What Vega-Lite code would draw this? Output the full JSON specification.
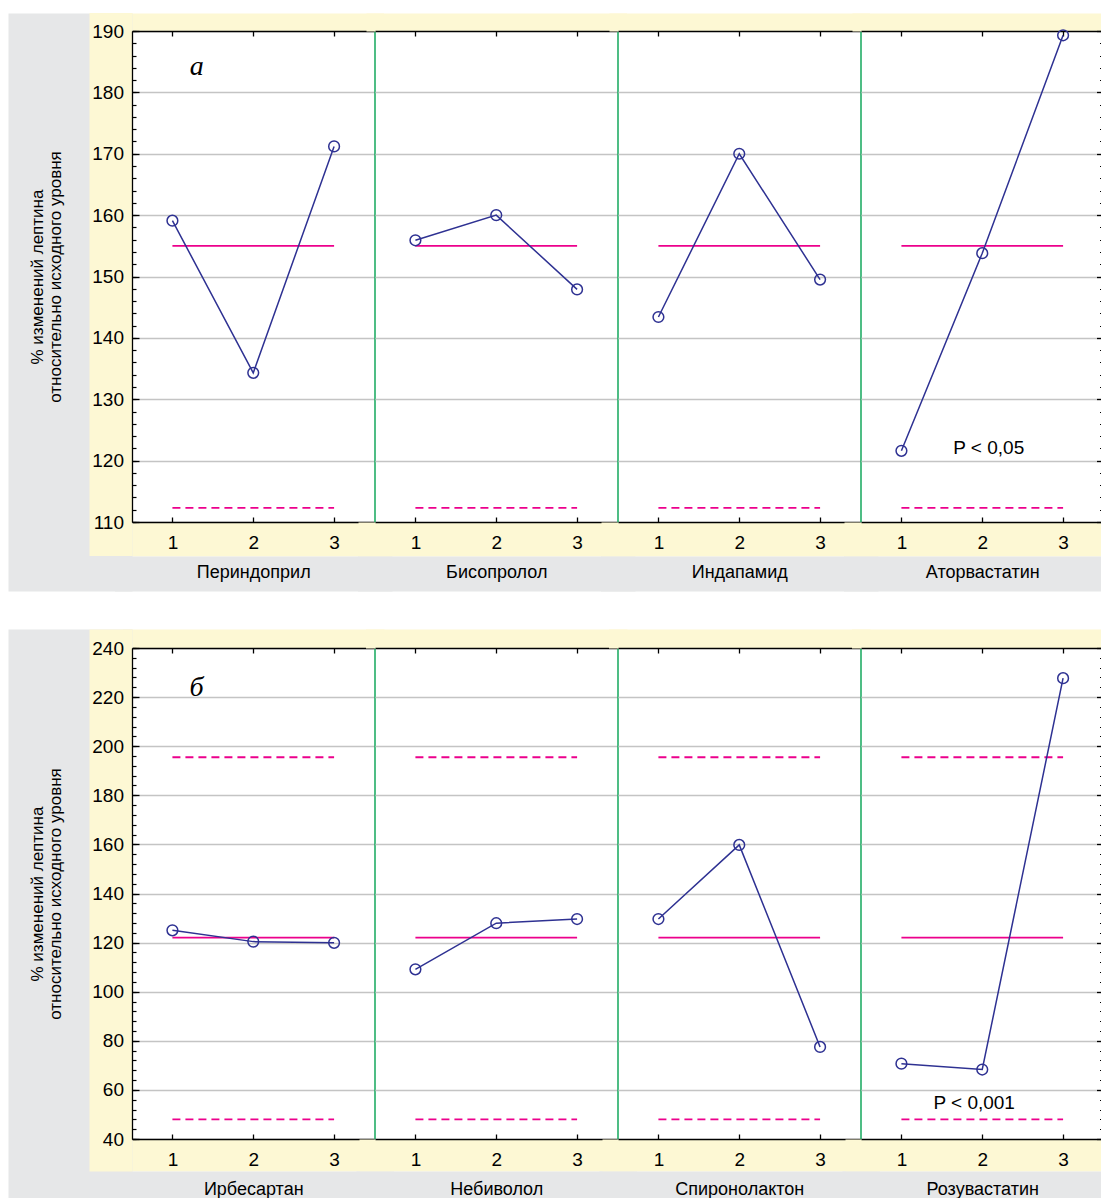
{
  "$schema": "https://vega.github.io/schema/vega-lite/v6.json",
  "background": "white",
  "padding": {"left": -281, "top": 12, "right": 0, "bottom": 0},
  "spacing": 38,
  "datasets": {
    "series": [
      {"row": "a", "drug": "Периндоприл", "visit": 1, "value": 159.1},
      {"row": "a", "drug": "Периндоприл", "visit": 2, "value": 134.3},
      {"row": "a", "drug": "Периндоприл", "visit": 3, "value": 171.2},
      {"row": "a", "drug": "Бисопролол", "visit": 1, "value": 155.9},
      {"row": "a", "drug": "Бисопролол", "visit": 2, "value": 160.0},
      {"row": "a", "drug": "Бисопролол", "visit": 3, "value": 147.9},
      {"row": "a", "drug": "Индапамид", "visit": 1, "value": 143.4},
      {"row": "a", "drug": "Индапамид", "visit": 2, "value": 170.0},
      {"row": "a", "drug": "Индапамид", "visit": 3, "value": 149.5},
      {"row": "a", "drug": "Аторвастатин", "visit": 1, "value": 121.6},
      {"row": "a", "drug": "Аторвастатин", "visit": 2, "value": 153.8},
      {"row": "a", "drug": "Аторвастатин", "visit": 3, "value": 189.3},
      {"row": "b", "drug": "Ирбесартан", "visit": 1, "value": 125.0},
      {"row": "b", "drug": "Ирбесартан", "visit": 2, "value": 120.4},
      {"row": "b", "drug": "Ирбесартан", "visit": 3, "value": 119.9},
      {"row": "b", "drug": "Небиволол", "visit": 1, "value": 109.1},
      {"row": "b", "drug": "Небиволол", "visit": 2, "value": 127.9},
      {"row": "b", "drug": "Небиволол", "visit": 3, "value": 129.6},
      {"row": "b", "drug": "Спиронолактон", "visit": 1, "value": 129.6},
      {"row": "b", "drug": "Спиронолактон", "visit": 2, "value": 159.8},
      {"row": "b", "drug": "Спиронолактон", "visit": 3, "value": 77.5},
      {"row": "b", "drug": "Розувастатин", "visit": 1, "value": 70.7},
      {"row": "b", "drug": "Розувастатин", "visit": 2, "value": 68.3},
      {"row": "b", "drug": "Розувастатин", "visit": 3, "value": 227.7}
    ],
    "limits": [
      {"row": "a", "kind": "mean", "value": 155.0},
      {"row": "a", "kind": "limit", "value": 112.3},
      {"row": "b", "kind": "mean", "value": 122.0},
      {"row": "b", "kind": "limit", "value": 195.5},
      {"row": "b", "kind": "limit", "value": 48.0}
    ],
    "notes": [
      {"drug": "Периндоприл", "kind": "letter", "label": "а", "x": 1.3, "y": 184.1},
      {"drug": "Аторвастатин", "kind": "p", "label": "P < 0,05", "x": 2.08, "y": 122.0},
      {"drug": "Ирбесартан", "kind": "letter", "label": "б", "x": 1.3, "y": 223.6},
      {"drug": "Розувастатин", "kind": "p", "label": "P < 0,001", "x": 1.9, "y": 54.7}
    ]
  },
  "vconcat": [
    {
      "bounds": "flush",
      "spacing": 0,
      "hconcat": [
        {
          "width": 242.5, "height": 491,
          "data": {"name": "series"},
          "transform": [{"filter": "datum.drug === 'Периндоприл'"}],
          "resolve": {"axis": {"x": "independent", "y": "independent"}},
          "layer": [
            {"mark": {"type": "point", "opacity": 0},
             "encoding": {
               "x": {"field": "visit", "type": "quantitative", "scale": {"domain": [0.5, 3.5], "nice": false, "zero": false},
                     "axis": {"orient": "top", "domainColor": "#fdf8d4", "domainWidth": 18, "domainCap": "square", "offset": 9, "ticks": false, "labels": false, "grid": false, "title": null}},
               "y": {"field": "value", "type": "quantitative", "scale": {"domain": [110, 190], "nice": false, "zero": false},
                     "axis": {"orient": "left", "domain": false, "labels": false, "grid": false, "values": [145.845], "tickSize": 124, "tickWidth": 578, "tickColor": "#e6e7e8", "title": null}}}},
            {"mark": {"type": "point", "opacity": 0},
             "encoding": {
               "x": {"field": "visit", "type": "quantitative", "scale": {"domain": [0.5, 3.5], "nice": false, "zero": false},
                     "axis": {"orient": "bottom", "domainColor": "#fdf8d4", "domainWidth": 34, "domainCap": "square", "offset": 17, "ticks": false, "labels": false, "grid": false, "title": null}},
               "y": {"field": "value", "type": "quantitative", "scale": {"domain": [110, 190], "nice": false, "zero": false},
                     "axis": {"orient": "left", "domain": false, "labels": false, "grid": false, "values": [148.7], "tickSize": 43, "tickWidth": 543, "tickColor": "#fdf8d4", "title": null}}}},
            {"mark": {"type": "point", "opacity": 0},
             "encoding": {
               "x": {"field": "visit", "type": "quantitative", "scale": {"domain": [0.5, 3.5], "nice": false, "zero": false},
                     "axis": {"orient": "bottom", "domainColor": "#e6e7e8", "domainWidth": 35, "domainCap": "square", "offset": 51.5, "ticks": false, "labels": false, "grid": false, "title": null}},
               "y": {"field": "value", "type": "quantitative", "scale": {"domain": [110, 190], "nice": false, "zero": false},
                     "axis": {"orient": "left", "domain": false, "labels": false, "grid": false, "values": [110,112,114,116,118,120,122,124,126,128,130,132,134,136,138,140,142,144,146,148,150,152,154,156,158,160,162,164,166,168,170,172,174,176,178,180,182,184,186,188,190], "tickSize": -4, "tickWidth": 1.2, "tickColor": "black", "title": null}}}},
            {"mark": {"type": "point", "opacity": 0},
             "encoding": {
               "x": {"field": "visit", "type": "quantitative", "scale": {"domain": [0.5, 3.5], "nice": false, "zero": false},
                     "axis": {"orient": "top", "domainColor": "black", "domainWidth": 1.3, "values": [1, 2, 3], "tickSize": -5, "tickWidth": 1.3, "tickColor": "black", "labels": false, "grid": false, "title": null}},
               "y": {"field": "value", "type": "quantitative", "scale": {"domain": [110, 190], "nice": false, "zero": false},
                     "axis": {"orient": "left", "domainColor": "black", "domainWidth": 1.3, "labels": false, "values": [110,120,130,140,150,160,170,180,190], "tickSize": -7, "tickWidth": 1.3, "tickColor": "black", "grid": true, "gridColor": "#c4c4c4", "gridWidth": 1.3, "title": null}}}},
            {"data": {"name": "limits"},
             "transform": [{"filter": "datum.row === 'a' && datum.kind === 'mean'"}],
             "mark": {"type": "rule", "color": "#ec008c", "strokeWidth": 1.8},
             "encoding": {
               "x": {"datum": 1, "type": "quantitative", "scale": {"domain": [0.5, 3.5], "nice": false, "zero": false}, "axis": null},
               "x2": {"datum": 3},
               "y": {"field": "value", "type": "quantitative", "scale": {"domain": [110, 190], "nice": false, "zero": false}, "axis": null}}},
            {"data": {"name": "limits"},
             "transform": [{"filter": "datum.row === 'a' && datum.kind === 'limit'"}],
             "mark": {"type": "rule", "color": "#ec008c", "strokeWidth": 1.8, "strokeDash": [8, 5]},
             "encoding": {
               "x": {"datum": 1, "type": "quantitative", "scale": {"domain": [0.5, 3.5], "nice": false, "zero": false}, "axis": null},
               "x2": {"datum": 3},
               "y": {"field": "value", "type": "quantitative", "scale": {"domain": [110, 190], "nice": false, "zero": false}, "axis": null}}},
            {"mark": {"type": "line", "color": "#2e3192", "strokeWidth": 1.5},
             "encoding": {
               "x": {"field": "visit", "type": "quantitative", "scale": {"domain": [0.5, 3.5], "nice": false, "zero": false},
                     "axis": {"orient": "bottom", "domainColor": "black", "domainWidth": 1.3, "values": [1, 2, 3], "tickSize": -5, "tickWidth": 1.3, "tickColor": "black", "labels": false, "grid": false, "title": null}},
               "y": {"field": "value", "type": "quantitative", "scale": {"domain": [110, 190], "nice": false, "zero": false},
                     "axis": {"orient": "left", "domain": false, "ticks": false, "grid": false, "values": [110,120,130,140,150,160,170,180,190], "labelPadding": 8.5, "labelFontSize": 19, "title": ["% изменений лептина", "относительно исходного уровня"], "titleFontSize": 17, "titleLineHeight": 18, "titlePadding": 27}}}},
            {"mark": {"type": "point", "shape": "circle", "filled": false, "size": 115, "strokeWidth": 1.5, "color": "#2e3192", "opacity": 1},
             "encoding": {
               "x": {"field": "visit", "type": "quantitative", "scale": {"domain": [0.5, 3.5], "nice": false, "zero": false},
                     "axis": {"orient": "bottom", "domain": false, "ticks": false, "grid": false, "values": [1, 2, 3], "labelPadding": 11, "labelFontSize": 19, "title": "Периндоприл", "titleFontSize": 18, "titlePadding": 11}},
               "y": {"field": "value", "type": "quantitative", "scale": {"domain": [110, 190], "nice": false, "zero": false},
                     "axis": {"orient": "right", "domainColor": "#22ad66", "domainWidth": 1.6, "ticks": false, "labels": false, "grid": false, "title": null}}}},
            {"data": {"name": "notes"},
             "transform": [{"filter": "datum.drug === 'Периндоприл'"}],
             "mark": {"type": "text", "font": "Liberation Serif", "fontStyle": "italic", "fontSize": 28, "color": "black"},
             "encoding": {
               "x": {"field": "x", "type": "quantitative", "scale": {"domain": [0.5, 3.5], "nice": false, "zero": false}, "axis": null},
               "y": {"field": "y", "type": "quantitative", "scale": {"domain": [110, 190], "nice": false, "zero": false}, "axis": null},
               "text": {"field": "label"}}}
          ]
        },
        {
          "width": 242.5, "height": 491,
          "data": {"name": "series"},
          "transform": [{"filter": "datum.drug === 'Бисопролол'"}],
          "resolve": {"axis": {"x": "independent", "y": "independent"}},
          "layer": [
            {"mark": {"type": "point", "opacity": 0},
             "encoding": {
               "x": {"field": "visit", "type": "quantitative", "scale": {"domain": [0.5, 3.5], "nice": false, "zero": false},
                     "axis": {"orient": "top", "domainColor": "#fdf8d4", "domainWidth": 18, "domainCap": "square", "offset": 9, "ticks": false, "labels": false, "grid": false, "title": null}},
               "y": {"field": "value", "type": "quantitative", "scale": {"domain": [110, 190], "nice": false, "zero": false}, "axis": null}}},
            {"mark": {"type": "point", "opacity": 0},
             "encoding": {
               "x": {"field": "visit", "type": "quantitative", "scale": {"domain": [0.5, 3.5], "nice": false, "zero": false},
                     "axis": {"orient": "bottom", "domainColor": "#fdf8d4", "domainWidth": 34, "domainCap": "square", "offset": 17, "ticks": false, "labels": false, "grid": false, "title": null}},
               "y": {"field": "value", "type": "quantitative", "scale": {"domain": [110, 190], "nice": false, "zero": false}, "axis": null}}},
            {"mark": {"type": "point", "opacity": 0},
             "encoding": {
               "x": {"field": "visit", "type": "quantitative", "scale": {"domain": [0.5, 3.5], "nice": false, "zero": false},
                     "axis": {"orient": "bottom", "domainColor": "#e6e7e8", "domainWidth": 35, "domainCap": "square", "offset": 51.5, "ticks": false, "labels": false, "grid": false, "title": null}},
               "y": {"field": "value", "type": "quantitative", "scale": {"domain": [110, 190], "nice": false, "zero": false}, "axis": null}}},
            {"mark": {"type": "point", "opacity": 0},
             "encoding": {
               "x": {"field": "visit", "type": "quantitative", "scale": {"domain": [0.5, 3.5], "nice": false, "zero": false},
                     "axis": {"orient": "top", "domainColor": "black", "domainWidth": 1.3, "values": [1, 2, 3], "tickSize": -5, "tickWidth": 1.3, "tickColor": "black", "labels": false, "grid": false, "title": null}},
               "y": {"field": "value", "type": "quantitative", "scale": {"domain": [110, 190], "nice": false, "zero": false}, "axis": null}}},
            {"data": {"name": "limits"},
             "transform": [{"filter": "datum.row === 'a' && datum.kind === 'mean'"}],
             "mark": {"type": "rule", "color": "#ec008c", "strokeWidth": 1.8},
             "encoding": {
               "x": {"datum": 1, "type": "quantitative", "scale": {"domain": [0.5, 3.5], "nice": false, "zero": false}, "axis": null},
               "x2": {"datum": 3},
               "y": {"field": "value", "type": "quantitative", "scale": {"domain": [110, 190], "nice": false, "zero": false}, "axis": null}}},
            {"data": {"name": "limits"},
             "transform": [{"filter": "datum.row === 'a' && datum.kind === 'limit'"}],
             "mark": {"type": "rule", "color": "#ec008c", "strokeWidth": 1.8, "strokeDash": [8, 5]},
             "encoding": {
               "x": {"datum": 1, "type": "quantitative", "scale": {"domain": [0.5, 3.5], "nice": false, "zero": false}, "axis": null},
               "x2": {"datum": 3},
               "y": {"field": "value", "type": "quantitative", "scale": {"domain": [110, 190], "nice": false, "zero": false}, "axis": null}}},
            {"mark": {"type": "line", "color": "#2e3192", "strokeWidth": 1.5},
             "encoding": {
               "x": {"field": "visit", "type": "quantitative", "scale": {"domain": [0.5, 3.5], "nice": false, "zero": false},
                     "axis": {"orient": "bottom", "domainColor": "black", "domainWidth": 1.3, "values": [1, 2, 3], "tickSize": -5, "tickWidth": 1.3, "tickColor": "black", "labels": false, "grid": false, "title": null}},
               "y": {"field": "value", "type": "quantitative", "scale": {"domain": [110, 190], "nice": false, "zero": false},
                     "axis": {"orient": "left", "domain": false, "ticks": false, "labels": false, "grid": true, "gridColor": "#c4c4c4", "gridWidth": 1.3, "values": [120,130,140,150,160,170,180], "title": null}}}},
            {"mark": {"type": "point", "shape": "circle", "filled": false, "size": 115, "strokeWidth": 1.5, "color": "#2e3192", "opacity": 1},
             "encoding": {
               "x": {"field": "visit", "type": "quantitative", "scale": {"domain": [0.5, 3.5], "nice": false, "zero": false},
                     "axis": {"orient": "bottom", "domain": false, "ticks": false, "grid": false, "values": [1, 2, 3], "labelPadding": 11, "labelFontSize": 19, "title": "Бисопролол", "titleFontSize": 18, "titlePadding": 11}},
               "y": {"field": "value", "type": "quantitative", "scale": {"domain": [110, 190], "nice": false, "zero": false},
                     "axis": {"orient": "right", "domainColor": "#22ad66", "domainWidth": 1.6, "ticks": false, "labels": false, "grid": false, "title": null}}}}
          ]
        },
        {
          "width": 242.5, "height": 491,
          "data": {"name": "series"},
          "transform": [{"filter": "datum.drug === 'Индапамид'"}],
          "resolve": {"axis": {"x": "independent", "y": "independent"}},
          "layer": [
            {"mark": {"type": "point", "opacity": 0},
             "encoding": {
               "x": {"field": "visit", "type": "quantitative", "scale": {"domain": [0.5, 3.5], "nice": false, "zero": false},
                     "axis": {"orient": "top", "domainColor": "#fdf8d4", "domainWidth": 18, "domainCap": "square", "offset": 9, "ticks": false, "labels": false, "grid": false, "title": null}},
               "y": {"field": "value", "type": "quantitative", "scale": {"domain": [110, 190], "nice": false, "zero": false}, "axis": null}}},
            {"mark": {"type": "point", "opacity": 0},
             "encoding": {
               "x": {"field": "visit", "type": "quantitative", "scale": {"domain": [0.5, 3.5], "nice": false, "zero": false},
                     "axis": {"orient": "bottom", "domainColor": "#fdf8d4", "domainWidth": 34, "domainCap": "square", "offset": 17, "ticks": false, "labels": false, "grid": false, "title": null}},
               "y": {"field": "value", "type": "quantitative", "scale": {"domain": [110, 190], "nice": false, "zero": false}, "axis": null}}},
            {"mark": {"type": "point", "opacity": 0},
             "encoding": {
               "x": {"field": "visit", "type": "quantitative", "scale": {"domain": [0.5, 3.5], "nice": false, "zero": false},
                     "axis": {"orient": "bottom", "domainColor": "#e6e7e8", "domainWidth": 35, "domainCap": "square", "offset": 51.5, "ticks": false, "labels": false, "grid": false, "title": null}},
               "y": {"field": "value", "type": "quantitative", "scale": {"domain": [110, 190], "nice": false, "zero": false}, "axis": null}}},
            {"mark": {"type": "point", "opacity": 0},
             "encoding": {
               "x": {"field": "visit", "type": "quantitative", "scale": {"domain": [0.5, 3.5], "nice": false, "zero": false},
                     "axis": {"orient": "top", "domainColor": "black", "domainWidth": 1.3, "values": [1, 2, 3], "tickSize": -5, "tickWidth": 1.3, "tickColor": "black", "labels": false, "grid": false, "title": null}},
               "y": {"field": "value", "type": "quantitative", "scale": {"domain": [110, 190], "nice": false, "zero": false}, "axis": null}}},
            {"data": {"name": "limits"},
             "transform": [{"filter": "datum.row === 'a' && datum.kind === 'mean'"}],
             "mark": {"type": "rule", "color": "#ec008c", "strokeWidth": 1.8},
             "encoding": {
               "x": {"datum": 1, "type": "quantitative", "scale": {"domain": [0.5, 3.5], "nice": false, "zero": false}, "axis": null},
               "x2": {"datum": 3},
               "y": {"field": "value", "type": "quantitative", "scale": {"domain": [110, 190], "nice": false, "zero": false}, "axis": null}}},
            {"data": {"name": "limits"},
             "transform": [{"filter": "datum.row === 'a' && datum.kind === 'limit'"}],
             "mark": {"type": "rule", "color": "#ec008c", "strokeWidth": 1.8, "strokeDash": [8, 5]},
             "encoding": {
               "x": {"datum": 1, "type": "quantitative", "scale": {"domain": [0.5, 3.5], "nice": false, "zero": false}, "axis": null},
               "x2": {"datum": 3},
               "y": {"field": "value", "type": "quantitative", "scale": {"domain": [110, 190], "nice": false, "zero": false}, "axis": null}}},
            {"mark": {"type": "line", "color": "#2e3192", "strokeWidth": 1.5},
             "encoding": {
               "x": {"field": "visit", "type": "quantitative", "scale": {"domain": [0.5, 3.5], "nice": false, "zero": false},
                     "axis": {"orient": "bottom", "domainColor": "black", "domainWidth": 1.3, "values": [1, 2, 3], "tickSize": -5, "tickWidth": 1.3, "tickColor": "black", "labels": false, "grid": false, "title": null}},
               "y": {"field": "value", "type": "quantitative", "scale": {"domain": [110, 190], "nice": false, "zero": false},
                     "axis": {"orient": "left", "domain": false, "ticks": false, "labels": false, "grid": true, "gridColor": "#c4c4c4", "gridWidth": 1.3, "values": [120,130,140,150,160,170,180], "title": null}}}},
            {"mark": {"type": "point", "shape": "circle", "filled": false, "size": 115, "strokeWidth": 1.5, "color": "#2e3192", "opacity": 1},
             "encoding": {
               "x": {"field": "visit", "type": "quantitative", "scale": {"domain": [0.5, 3.5], "nice": false, "zero": false},
                     "axis": {"orient": "bottom", "domain": false, "ticks": false, "grid": false, "values": [1, 2, 3], "labelPadding": 11, "labelFontSize": 19, "title": "Индапамид", "titleFontSize": 18, "titlePadding": 11}},
               "y": {"field": "value", "type": "quantitative", "scale": {"domain": [110, 190], "nice": false, "zero": false},
                     "axis": {"orient": "right", "domainColor": "#22ad66", "domainWidth": 1.6, "ticks": false, "labels": false, "grid": false, "title": null}}}}
          ]
        },
        {
          "width": 242.5, "height": 491,
          "data": {"name": "series"},
          "transform": [{"filter": "datum.drug === 'Аторвастатин'"}],
          "resolve": {"axis": {"x": "independent", "y": "independent"}},
          "layer": [
            {"mark": {"type": "point", "opacity": 0},
             "encoding": {
               "x": {"field": "visit", "type": "quantitative", "scale": {"domain": [0.5, 3.5], "nice": false, "zero": false},
                     "axis": {"orient": "top", "domainColor": "#fdf8d4", "domainWidth": 18, "domainCap": "square", "offset": 9, "ticks": false, "labels": false, "grid": false, "title": null}},
               "y": {"field": "value", "type": "quantitative", "scale": {"domain": [110, 190], "nice": false, "zero": false}, "axis": null}}},
            {"mark": {"type": "point", "opacity": 0},
             "encoding": {
               "x": {"field": "visit", "type": "quantitative", "scale": {"domain": [0.5, 3.5], "nice": false, "zero": false},
                     "axis": {"orient": "bottom", "domainColor": "#fdf8d4", "domainWidth": 34, "domainCap": "square", "offset": 17, "ticks": false, "labels": false, "grid": false, "title": null}},
               "y": {"field": "value", "type": "quantitative", "scale": {"domain": [110, 190], "nice": false, "zero": false}, "axis": null}}},
            {"mark": {"type": "point", "opacity": 0},
             "encoding": {
               "x": {"field": "visit", "type": "quantitative", "scale": {"domain": [0.5, 3.5], "nice": false, "zero": false},
                     "axis": {"orient": "bottom", "domainColor": "#e6e7e8", "domainWidth": 35, "domainCap": "square", "offset": 51.5, "ticks": false, "labels": false, "grid": false, "title": null}},
               "y": {"field": "value", "type": "quantitative", "scale": {"domain": [110, 190], "nice": false, "zero": false},
                     "axis": {"orient": "right", "domain": false, "labels": false, "grid": false, "values": [110,112,114,116,118,120,122,124,126,128,130,132,134,136,138,140,142,144,146,148,150,152,154,156,158,160,162,164,166,168,170,172,174,176,178,180,182,184,186,188,190], "tickSize": -4, "tickWidth": 1.2, "tickColor": "black", "title": null}}}},
            {"mark": {"type": "point", "opacity": 0},
             "encoding": {
               "x": {"field": "visit", "type": "quantitative", "scale": {"domain": [0.5, 3.5], "nice": false, "zero": false},
                     "axis": {"orient": "top", "domainColor": "black", "domainWidth": 1.3, "values": [1, 2, 3], "tickSize": -5, "tickWidth": 1.3, "tickColor": "black", "labels": false, "grid": false, "title": null}},
               "y": {"field": "value", "type": "quantitative", "scale": {"domain": [110, 190], "nice": false, "zero": false},
                     "axis": {"orient": "right", "domainColor": "black", "domainWidth": 1.3, "labels": false, "values": [110,120,130,140,150,160,170,180,190], "tickSize": -7, "tickWidth": 1.3, "tickColor": "black", "grid": false, "title": null}}}},
            {"data": {"name": "limits"},
             "transform": [{"filter": "datum.row === 'a' && datum.kind === 'mean'"}],
             "mark": {"type": "rule", "color": "#ec008c", "strokeWidth": 1.8},
             "encoding": {
               "x": {"datum": 1, "type": "quantitative", "scale": {"domain": [0.5, 3.5], "nice": false, "zero": false}, "axis": null},
               "x2": {"datum": 3},
               "y": {"field": "value", "type": "quantitative", "scale": {"domain": [110, 190], "nice": false, "zero": false}, "axis": null}}},
            {"data": {"name": "limits"},
             "transform": [{"filter": "datum.row === 'a' && datum.kind === 'limit'"}],
             "mark": {"type": "rule", "color": "#ec008c", "strokeWidth": 1.8, "strokeDash": [8, 5]},
             "encoding": {
               "x": {"datum": 1, "type": "quantitative", "scale": {"domain": [0.5, 3.5], "nice": false, "zero": false}, "axis": null},
               "x2": {"datum": 3},
               "y": {"field": "value", "type": "quantitative", "scale": {"domain": [110, 190], "nice": false, "zero": false}, "axis": null}}},
            {"mark": {"type": "line", "color": "#2e3192", "strokeWidth": 1.5},
             "encoding": {
               "x": {"field": "visit", "type": "quantitative", "scale": {"domain": [0.5, 3.5], "nice": false, "zero": false},
                     "axis": {"orient": "bottom", "domainColor": "black", "domainWidth": 1.3, "values": [1, 2, 3], "tickSize": -5, "tickWidth": 1.3, "tickColor": "black", "labels": false, "grid": false, "title": null}},
               "y": {"field": "value", "type": "quantitative", "scale": {"domain": [110, 190], "nice": false, "zero": false},
                     "axis": {"orient": "left", "domain": false, "ticks": false, "labels": false, "grid": true, "gridColor": "#c4c4c4", "gridWidth": 1.3, "values": [120,130,140,150,160,170,180], "title": null}}}},
            {"mark": {"type": "point", "shape": "circle", "filled": false, "size": 115, "strokeWidth": 1.5, "color": "#2e3192", "opacity": 1},
             "encoding": {
               "x": {"field": "visit", "type": "quantitative", "scale": {"domain": [0.5, 3.5], "nice": false, "zero": false},
                     "axis": {"orient": "bottom", "domain": false, "ticks": false, "grid": false, "values": [1, 2, 3], "labelPadding": 11, "labelFontSize": 19, "title": "Аторвастатин", "titleFontSize": 18, "titlePadding": 11}},
               "y": {"field": "value", "type": "quantitative", "scale": {"domain": [110, 190], "nice": false, "zero": false}, "axis": null}}},
            {"data": {"name": "notes"},
             "transform": [{"filter": "datum.drug === 'Аторвастатин'"}],
             "mark": {"type": "text", "fontSize": 19, "color": "black"},
             "encoding": {
               "x": {"field": "x", "type": "quantitative", "scale": {"domain": [0.5, 3.5], "nice": false, "zero": false}, "axis": null},
               "y": {"field": "y", "type": "quantitative", "scale": {"domain": [110, 190], "nice": false, "zero": false}, "axis": null},
               "text": {"field": "label"}}}
          ]
        }
      ]
    },
    {
      "bounds": "flush",
      "spacing": 0,
      "hconcat": [
        {
          "width": 242.5, "height": 491,
          "data": {"name": "series"},
          "transform": [{"filter": "datum.drug === 'Ирбесартан'"}],
          "resolve": {"axis": {"x": "independent", "y": "independent"}},
          "layer": [
            {"mark": {"type": "point", "opacity": 0},
             "encoding": {
               "x": {"field": "visit", "type": "quantitative", "scale": {"domain": [0.5, 3.5], "nice": false, "zero": false},
                     "axis": {"orient": "top", "domainColor": "#fdf8d4", "domainWidth": 19, "domainCap": "square", "offset": 9.5, "ticks": false, "labels": false, "grid": false, "title": null}},
               "y": {"field": "value", "type": "quantitative", "scale": {"domain": [40, 240], "nice": false, "zero": false},
                     "axis": {"orient": "left", "domain": false, "labels": false, "grid": false, "values": [130.02], "tickSize": 124, "tickWidth": 578, "tickColor": "#e6e7e8", "title": null}}}},
            {"mark": {"type": "point", "opacity": 0},
             "encoding": {
               "x": {"field": "visit", "type": "quantitative", "scale": {"domain": [0.5, 3.5], "nice": false, "zero": false},
                     "axis": {"orient": "bottom", "domainColor": "#fdf8d4", "domainWidth": 32, "domainCap": "square", "offset": 16, "ticks": false, "labels": false, "grid": false, "title": null}},
               "y": {"field": "value", "type": "quantitative", "scale": {"domain": [40, 240], "nice": false, "zero": false},
                     "axis": {"orient": "left", "domain": false, "labels": false, "grid": false, "values": [137.35], "tickSize": 43, "tickWidth": 542, "tickColor": "#fdf8d4", "title": null}}}},
            {"mark": {"type": "point", "opacity": 0},
             "encoding": {
               "x": {"field": "visit", "type": "quantitative", "scale": {"domain": [0.5, 3.5], "nice": false, "zero": false},
                     "axis": {"orient": "bottom", "domainColor": "#e6e7e8", "domainWidth": 38, "domainCap": "square", "offset": 51, "ticks": false, "labels": false, "grid": false, "title": null}},
               "y": {"field": "value", "type": "quantitative", "scale": {"domain": [40, 240], "nice": false, "zero": false},
                     "axis": {"orient": "left", "domain": false, "labels": false, "grid": false, "values": [40,44,48,52,56,60,64,68,72,76,80,84,88,92,96,100,104,108,112,116,120,124,128,132,136,140,144,148,152,156,160,164,168,172,176,180,184,188,192,196,200,204,208,212,216,220,224,228,232,236,240], "tickSize": -4, "tickWidth": 1.2, "tickColor": "black", "title": null}}}},
            {"mark": {"type": "point", "opacity": 0},
             "encoding": {
               "x": {"field": "visit", "type": "quantitative", "scale": {"domain": [0.5, 3.5], "nice": false, "zero": false},
                     "axis": {"orient": "top", "domainColor": "black", "domainWidth": 1.3, "values": [1, 2, 3], "tickSize": -5, "tickWidth": 1.3, "tickColor": "black", "labels": false, "grid": false, "title": null}},
               "y": {"field": "value", "type": "quantitative", "scale": {"domain": [40, 240], "nice": false, "zero": false},
                     "axis": {"orient": "left", "domainColor": "black", "domainWidth": 1.3, "labels": false, "values": [40,60,80,100,120,140,160,180,200,220,240], "tickSize": -7, "tickWidth": 1.3, "tickColor": "black", "grid": true, "gridColor": "#c4c4c4", "gridWidth": 1.3, "title": null}}}},
            {"data": {"name": "limits"},
             "transform": [{"filter": "datum.row === 'b' && datum.kind === 'mean'"}],
             "mark": {"type": "rule", "color": "#ec008c", "strokeWidth": 1.8},
             "encoding": {
               "x": {"datum": 1, "type": "quantitative", "scale": {"domain": [0.5, 3.5], "nice": false, "zero": false}, "axis": null},
               "x2": {"datum": 3},
               "y": {"field": "value", "type": "quantitative", "scale": {"domain": [40, 240], "nice": false, "zero": false}, "axis": null}}},
            {"data": {"name": "limits"},
             "transform": [{"filter": "datum.row === 'b' && datum.kind === 'limit'"}],
             "mark": {"type": "rule", "color": "#ec008c", "strokeWidth": 1.8, "strokeDash": [8, 5]},
             "encoding": {
               "x": {"datum": 1, "type": "quantitative", "scale": {"domain": [0.5, 3.5], "nice": false, "zero": false}, "axis": null},
               "x2": {"datum": 3},
               "y": {"field": "value", "type": "quantitative", "scale": {"domain": [40, 240], "nice": false, "zero": false}, "axis": null}}},
            {"mark": {"type": "line", "color": "#2e3192", "strokeWidth": 1.5},
             "encoding": {
               "x": {"field": "visit", "type": "quantitative", "scale": {"domain": [0.5, 3.5], "nice": false, "zero": false},
                     "axis": {"orient": "bottom", "domainColor": "black", "domainWidth": 1.3, "values": [1, 2, 3], "tickSize": -5, "tickWidth": 1.3, "tickColor": "black", "labels": false, "grid": false, "title": null}},
               "y": {"field": "value", "type": "quantitative", "scale": {"domain": [40, 240], "nice": false, "zero": false},
                     "axis": {"orient": "left", "domain": false, "ticks": false, "grid": false, "values": [40,60,80,100,120,140,160,180,200,220,240], "labelPadding": 8.5, "labelFontSize": 19, "title": ["% изменений лептина", "относительно исходного уровня"], "titleFontSize": 17, "titleLineHeight": 18, "titlePadding": 27}}}},
            {"mark": {"type": "point", "shape": "circle", "filled": false, "size": 115, "strokeWidth": 1.5, "color": "#2e3192", "opacity": 1},
             "encoding": {
               "x": {"field": "visit", "type": "quantitative", "scale": {"domain": [0.5, 3.5], "nice": false, "zero": false},
                     "axis": {"orient": "bottom", "domain": false, "ticks": false, "grid": false, "values": [1, 2, 3], "labelPadding": 11, "labelFontSize": 19, "title": "Ирбесартан", "titleFontSize": 18, "titlePadding": 11}},
               "y": {"field": "value", "type": "quantitative", "scale": {"domain": [40, 240], "nice": false, "zero": false},
                     "axis": {"orient": "right", "domainColor": "#22ad66", "domainWidth": 1.6, "ticks": false, "labels": false, "grid": false, "title": null}}}},
            {"data": {"name": "notes"},
             "transform": [{"filter": "datum.drug === 'Ирбесартан'"}],
             "mark": {"type": "text", "font": "Liberation Serif", "fontStyle": "italic", "fontSize": 28, "color": "black"},
             "encoding": {
               "x": {"field": "x", "type": "quantitative", "scale": {"domain": [0.5, 3.5], "nice": false, "zero": false}, "axis": null},
               "y": {"field": "y", "type": "quantitative", "scale": {"domain": [40, 240], "nice": false, "zero": false}, "axis": null},
               "text": {"field": "label"}}}
          ]
        },
        {
          "width": 242.5, "height": 491,
          "data": {"name": "series"},
          "transform": [{"filter": "datum.drug === 'Небиволол'"}],
          "resolve": {"axis": {"x": "independent", "y": "independent"}},
          "layer": [
            {"mark": {"type": "point", "opacity": 0},
             "encoding": {
               "x": {"field": "visit", "type": "quantitative", "scale": {"domain": [0.5, 3.5], "nice": false, "zero": false},
                     "axis": {"orient": "top", "domainColor": "#fdf8d4", "domainWidth": 19, "domainCap": "square", "offset": 9.5, "ticks": false, "labels": false, "grid": false, "title": null}},
               "y": {"field": "value", "type": "quantitative", "scale": {"domain": [40, 240], "nice": false, "zero": false}, "axis": null}}},
            {"mark": {"type": "point", "opacity": 0},
             "encoding": {
               "x": {"field": "visit", "type": "quantitative", "scale": {"domain": [0.5, 3.5], "nice": false, "zero": false},
                     "axis": {"orient": "bottom", "domainColor": "#fdf8d4", "domainWidth": 32, "domainCap": "square", "offset": 16, "ticks": false, "labels": false, "grid": false, "title": null}},
               "y": {"field": "value", "type": "quantitative", "scale": {"domain": [40, 240], "nice": false, "zero": false}, "axis": null}}},
            {"mark": {"type": "point", "opacity": 0},
             "encoding": {
               "x": {"field": "visit", "type": "quantitative", "scale": {"domain": [0.5, 3.5], "nice": false, "zero": false},
                     "axis": {"orient": "bottom", "domainColor": "#e6e7e8", "domainWidth": 38, "domainCap": "square", "offset": 51, "ticks": false, "labels": false, "grid": false, "title": null}},
               "y": {"field": "value", "type": "quantitative", "scale": {"domain": [40, 240], "nice": false, "zero": false}, "axis": null}}},
            {"mark": {"type": "point", "opacity": 0},
             "encoding": {
               "x": {"field": "visit", "type": "quantitative", "scale": {"domain": [0.5, 3.5], "nice": false, "zero": false},
                     "axis": {"orient": "top", "domainColor": "black", "domainWidth": 1.3, "values": [1, 2, 3], "tickSize": -5, "tickWidth": 1.3, "tickColor": "black", "labels": false, "grid": false, "title": null}},
               "y": {"field": "value", "type": "quantitative", "scale": {"domain": [40, 240], "nice": false, "zero": false}, "axis": null}}},
            {"data": {"name": "limits"},
             "transform": [{"filter": "datum.row === 'b' && datum.kind === 'mean'"}],
             "mark": {"type": "rule", "color": "#ec008c", "strokeWidth": 1.8},
             "encoding": {
               "x": {"datum": 1, "type": "quantitative", "scale": {"domain": [0.5, 3.5], "nice": false, "zero": false}, "axis": null},
               "x2": {"datum": 3},
               "y": {"field": "value", "type": "quantitative", "scale": {"domain": [40, 240], "nice": false, "zero": false}, "axis": null}}},
            {"data": {"name": "limits"},
             "transform": [{"filter": "datum.row === 'b' && datum.kind === 'limit'"}],
             "mark": {"type": "rule", "color": "#ec008c", "strokeWidth": 1.8, "strokeDash": [8, 5]},
             "encoding": {
               "x": {"datum": 1, "type": "quantitative", "scale": {"domain": [0.5, 3.5], "nice": false, "zero": false}, "axis": null},
               "x2": {"datum": 3},
               "y": {"field": "value", "type": "quantitative", "scale": {"domain": [40, 240], "nice": false, "zero": false}, "axis": null}}},
            {"mark": {"type": "line", "color": "#2e3192", "strokeWidth": 1.5},
             "encoding": {
               "x": {"field": "visit", "type": "quantitative", "scale": {"domain": [0.5, 3.5], "nice": false, "zero": false},
                     "axis": {"orient": "bottom", "domainColor": "black", "domainWidth": 1.3, "values": [1, 2, 3], "tickSize": -5, "tickWidth": 1.3, "tickColor": "black", "labels": false, "grid": false, "title": null}},
               "y": {"field": "value", "type": "quantitative", "scale": {"domain": [40, 240], "nice": false, "zero": false},
                     "axis": {"orient": "left", "domain": false, "ticks": false, "labels": false, "grid": true, "gridColor": "#c4c4c4", "gridWidth": 1.3, "values": [60,80,100,120,140,160,180,200,220], "title": null}}}},
            {"mark": {"type": "point", "shape": "circle", "filled": false, "size": 115, "strokeWidth": 1.5, "color": "#2e3192", "opacity": 1},
             "encoding": {
               "x": {"field": "visit", "type": "quantitative", "scale": {"domain": [0.5, 3.5], "nice": false, "zero": false},
                     "axis": {"orient": "bottom", "domain": false, "ticks": false, "grid": false, "values": [1, 2, 3], "labelPadding": 11, "labelFontSize": 19, "title": "Небиволол", "titleFontSize": 18, "titlePadding": 11}},
               "y": {"field": "value", "type": "quantitative", "scale": {"domain": [40, 240], "nice": false, "zero": false},
                     "axis": {"orient": "right", "domainColor": "#22ad66", "domainWidth": 1.6, "ticks": false, "labels": false, "grid": false, "title": null}}}}
          ]
        },
        {
          "width": 242.5, "height": 491,
          "data": {"name": "series"},
          "transform": [{"filter": "datum.drug === 'Спиронолактон'"}],
          "resolve": {"axis": {"x": "independent", "y": "independent"}},
          "layer": [
            {"mark": {"type": "point", "opacity": 0},
             "encoding": {
               "x": {"field": "visit", "type": "quantitative", "scale": {"domain": [0.5, 3.5], "nice": false, "zero": false},
                     "axis": {"orient": "top", "domainColor": "#fdf8d4", "domainWidth": 19, "domainCap": "square", "offset": 9.5, "ticks": false, "labels": false, "grid": false, "title": null}},
               "y": {"field": "value", "type": "quantitative", "scale": {"domain": [40, 240], "nice": false, "zero": false}, "axis": null}}},
            {"mark": {"type": "point", "opacity": 0},
             "encoding": {
               "x": {"field": "visit", "type": "quantitative", "scale": {"domain": [0.5, 3.5], "nice": false, "zero": false},
                     "axis": {"orient": "bottom", "domainColor": "#fdf8d4", "domainWidth": 32, "domainCap": "square", "offset": 16, "ticks": false, "labels": false, "grid": false, "title": null}},
               "y": {"field": "value", "type": "quantitative", "scale": {"domain": [40, 240], "nice": false, "zero": false}, "axis": null}}},
            {"mark": {"type": "point", "opacity": 0},
             "encoding": {
               "x": {"field": "visit", "type": "quantitative", "scale": {"domain": [0.5, 3.5], "nice": false, "zero": false},
                     "axis": {"orient": "bottom", "domainColor": "#e6e7e8", "domainWidth": 38, "domainCap": "square", "offset": 51, "ticks": false, "labels": false, "grid": false, "title": null}},
               "y": {"field": "value", "type": "quantitative", "scale": {"domain": [40, 240], "nice": false, "zero": false}, "axis": null}}},
            {"mark": {"type": "point", "opacity": 0},
             "encoding": {
               "x": {"field": "visit", "type": "quantitative", "scale": {"domain": [0.5, 3.5], "nice": false, "zero": false},
                     "axis": {"orient": "top", "domainColor": "black", "domainWidth": 1.3, "values": [1, 2, 3], "tickSize": -5, "tickWidth": 1.3, "tickColor": "black", "labels": false, "grid": false, "title": null}},
               "y": {"field": "value", "type": "quantitative", "scale": {"domain": [40, 240], "nice": false, "zero": false}, "axis": null}}},
            {"data": {"name": "limits"},
             "transform": [{"filter": "datum.row === 'b' && datum.kind === 'mean'"}],
             "mark": {"type": "rule", "color": "#ec008c", "strokeWidth": 1.8},
             "encoding": {
               "x": {"datum": 1, "type": "quantitative", "scale": {"domain": [0.5, 3.5], "nice": false, "zero": false}, "axis": null},
               "x2": {"datum": 3},
               "y": {"field": "value", "type": "quantitative", "scale": {"domain": [40, 240], "nice": false, "zero": false}, "axis": null}}},
            {"data": {"name": "limits"},
             "transform": [{"filter": "datum.row === 'b' && datum.kind === 'limit'"}],
             "mark": {"type": "rule", "color": "#ec008c", "strokeWidth": 1.8, "strokeDash": [8, 5]},
             "encoding": {
               "x": {"datum": 1, "type": "quantitative", "scale": {"domain": [0.5, 3.5], "nice": false, "zero": false}, "axis": null},
               "x2": {"datum": 3},
               "y": {"field": "value", "type": "quantitative", "scale": {"domain": [40, 240], "nice": false, "zero": false}, "axis": null}}},
            {"mark": {"type": "line", "color": "#2e3192", "strokeWidth": 1.5},
             "encoding": {
               "x": {"field": "visit", "type": "quantitative", "scale": {"domain": [0.5, 3.5], "nice": false, "zero": false},
                     "axis": {"orient": "bottom", "domainColor": "black", "domainWidth": 1.3, "values": [1, 2, 3], "tickSize": -5, "tickWidth": 1.3, "tickColor": "black", "labels": false, "grid": false, "title": null}},
               "y": {"field": "value", "type": "quantitative", "scale": {"domain": [40, 240], "nice": false, "zero": false},
                     "axis": {"orient": "left", "domain": false, "ticks": false, "labels": false, "grid": true, "gridColor": "#c4c4c4", "gridWidth": 1.3, "values": [60,80,100,120,140,160,180,200,220], "title": null}}}},
            {"mark": {"type": "point", "shape": "circle", "filled": false, "size": 115, "strokeWidth": 1.5, "color": "#2e3192", "opacity": 1},
             "encoding": {
               "x": {"field": "visit", "type": "quantitative", "scale": {"domain": [0.5, 3.5], "nice": false, "zero": false},
                     "axis": {"orient": "bottom", "domain": false, "ticks": false, "grid": false, "values": [1, 2, 3], "labelPadding": 11, "labelFontSize": 19, "title": "Спиронолактон", "titleFontSize": 18, "titlePadding": 11}},
               "y": {"field": "value", "type": "quantitative", "scale": {"domain": [40, 240], "nice": false, "zero": false},
                     "axis": {"orient": "right", "domainColor": "#22ad66", "domainWidth": 1.6, "ticks": false, "labels": false, "grid": false, "title": null}}}}
          ]
        },
        {
          "width": 242.5, "height": 491,
          "data": {"name": "series"},
          "transform": [{"filter": "datum.drug === 'Розувастатин'"}],
          "resolve": {"axis": {"x": "independent", "y": "independent"}},
          "layer": [
            {"mark": {"type": "point", "opacity": 0},
             "encoding": {
               "x": {"field": "visit", "type": "quantitative", "scale": {"domain": [0.5, 3.5], "nice": false, "zero": false},
                     "axis": {"orient": "top", "domainColor": "#fdf8d4", "domainWidth": 19, "domainCap": "square", "offset": 9.5, "ticks": false, "labels": false, "grid": false, "title": null}},
               "y": {"field": "value", "type": "quantitative", "scale": {"domain": [40, 240], "nice": false, "zero": false}, "axis": null}}},
            {"mark": {"type": "point", "opacity": 0},
             "encoding": {
               "x": {"field": "visit", "type": "quantitative", "scale": {"domain": [0.5, 3.5], "nice": false, "zero": false},
                     "axis": {"orient": "bottom", "domainColor": "#fdf8d4", "domainWidth": 32, "domainCap": "square", "offset": 16, "ticks": false, "labels": false, "grid": false, "title": null}},
               "y": {"field": "value", "type": "quantitative", "scale": {"domain": [40, 240], "nice": false, "zero": false}, "axis": null}}},
            {"mark": {"type": "point", "opacity": 0},
             "encoding": {
               "x": {"field": "visit", "type": "quantitative", "scale": {"domain": [0.5, 3.5], "nice": false, "zero": false},
                     "axis": {"orient": "bottom", "domainColor": "#e6e7e8", "domainWidth": 38, "domainCap": "square", "offset": 51, "ticks": false, "labels": false, "grid": false, "title": null}},
               "y": {"field": "value", "type": "quantitative", "scale": {"domain": [40, 240], "nice": false, "zero": false},
                     "axis": {"orient": "right", "domain": false, "labels": false, "grid": false, "values": [40,44,48,52,56,60,64,68,72,76,80,84,88,92,96,100,104,108,112,116,120,124,128,132,136,140,144,148,152,156,160,164,168,172,176,180,184,188,192,196,200,204,208,212,216,220,224,228,232,236,240], "tickSize": -4, "tickWidth": 1.2, "tickColor": "black", "title": null}}}},
            {"mark": {"type": "point", "opacity": 0},
             "encoding": {
               "x": {"field": "visit", "type": "quantitative", "scale": {"domain": [0.5, 3.5], "nice": false, "zero": false},
                     "axis": {"orient": "top", "domainColor": "black", "domainWidth": 1.3, "values": [1, 2, 3], "tickSize": -5, "tickWidth": 1.3, "tickColor": "black", "labels": false, "grid": false, "title": null}},
               "y": {"field": "value", "type": "quantitative", "scale": {"domain": [40, 240], "nice": false, "zero": false},
                     "axis": {"orient": "right", "domainColor": "black", "domainWidth": 1.3, "labels": false, "values": [40,60,80,100,120,140,160,180,200,220,240], "tickSize": -7, "tickWidth": 1.3, "tickColor": "black", "grid": false, "title": null}}}},
            {"data": {"name": "limits"},
             "transform": [{"filter": "datum.row === 'b' && datum.kind === 'mean'"}],
             "mark": {"type": "rule", "color": "#ec008c", "strokeWidth": 1.8},
             "encoding": {
               "x": {"datum": 1, "type": "quantitative", "scale": {"domain": [0.5, 3.5], "nice": false, "zero": false}, "axis": null},
               "x2": {"datum": 3},
               "y": {"field": "value", "type": "quantitative", "scale": {"domain": [40, 240], "nice": false, "zero": false}, "axis": null}}},
            {"data": {"name": "limits"},
             "transform": [{"filter": "datum.row === 'b' && datum.kind === 'limit'"}],
             "mark": {"type": "rule", "color": "#ec008c", "strokeWidth": 1.8, "strokeDash": [8, 5]},
             "encoding": {
               "x": {"datum": 1, "type": "quantitative", "scale": {"domain": [0.5, 3.5], "nice": false, "zero": false}, "axis": null},
               "x2": {"datum": 3},
               "y": {"field": "value", "type": "quantitative", "scale": {"domain": [40, 240], "nice": false, "zero": false}, "axis": null}}},
            {"mark": {"type": "line", "color": "#2e3192", "strokeWidth": 1.5},
             "encoding": {
               "x": {"field": "visit", "type": "quantitative", "scale": {"domain": [0.5, 3.5], "nice": false, "zero": false},
                     "axis": {"orient": "bottom", "domainColor": "black", "domainWidth": 1.3, "values": [1, 2, 3], "tickSize": -5, "tickWidth": 1.3, "tickColor": "black", "labels": false, "grid": false, "title": null}},
               "y": {"field": "value", "type": "quantitative", "scale": {"domain": [40, 240], "nice": false, "zero": false},
                     "axis": {"orient": "left", "domain": false, "ticks": false, "labels": false, "grid": true, "gridColor": "#c4c4c4", "gridWidth": 1.3, "values": [60,80,100,120,140,160,180,200,220], "title": null}}}},
            {"mark": {"type": "point", "shape": "circle", "filled": false, "size": 115, "strokeWidth": 1.5, "color": "#2e3192", "opacity": 1},
             "encoding": {
               "x": {"field": "visit", "type": "quantitative", "scale": {"domain": [0.5, 3.5], "nice": false, "zero": false},
                     "axis": {"orient": "bottom", "domain": false, "ticks": false, "grid": false, "values": [1, 2, 3], "labelPadding": 11, "labelFontSize": 19, "title": "Розувастатин", "titleFontSize": 18, "titlePadding": 11}},
               "y": {"field": "value", "type": "quantitative", "scale": {"domain": [40, 240], "nice": false, "zero": false}, "axis": null}}},
            {"data": {"name": "notes"},
             "transform": [{"filter": "datum.drug === 'Розувастатин'"}],
             "mark": {"type": "text", "fontSize": 19, "color": "black"},
             "encoding": {
               "x": {"field": "x", "type": "quantitative", "scale": {"domain": [0.5, 3.5], "nice": false, "zero": false}, "axis": null},
               "y": {"field": "y", "type": "quantitative", "scale": {"domain": [40, 240], "nice": false, "zero": false}, "axis": null},
               "text": {"field": "label"}}}
          ]
        }
      ]
    }
  ],
  "config": {
    "view": {"stroke": null, "fill": null},
    "font": "Liberation Sans",
    "axis": {
      "labelColor": "black",
      "titleColor": "black",
      "titleFontWeight": "normal",
      "labelFontSize": 19,
      "domainCap": "butt",
      "tickCap": "butt",
      "labelFont": "Liberation Sans",
      "titleFont": "Liberation Sans"
    },
    "text": {"font": "Liberation Sans"}
  }
}
